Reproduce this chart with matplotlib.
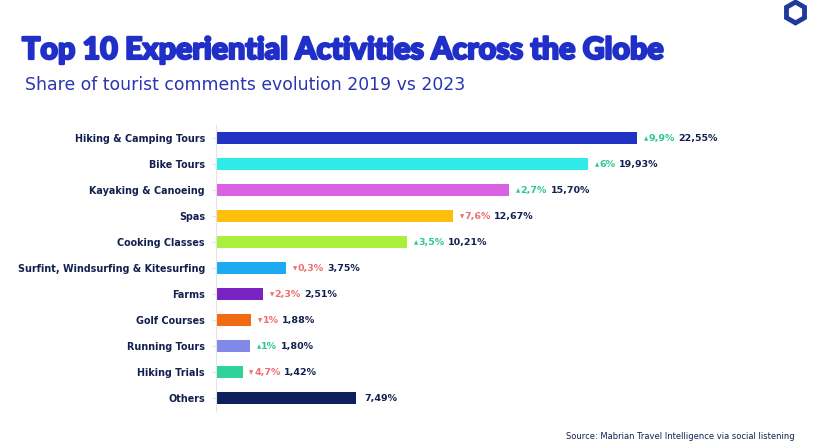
import matplotlib.pyplot as plt
import matplotlib.patheffects as pe
from matplotlib.lines import Line2D

categories = ["Hiking & Camping Tours", "Bike Tours", "Kayaking & Canoeing", "Spas",
              "Cooking Classes", "Surfint, Windsurfing & Kitesurfing", "Farms",
              "Golf Courses", "Running Tours", "Hiking Trials", "Others"]
shares = [22.55, 19.93, 15.70, 12.67, 10.21, 3.75, 2.51, 1.88, 1.80, 1.42, 7.49]
changes = [9.9, 6, 2.7, -7.6, 3.5, -0.3, -2.3, -1, 1, -4.7, None]
colors = ["#2233c4", "#2eeaea", "#d862e2", "#fcbf0c", "#a8f03c", "#1eaaf0",
          "#7a22c2", "#f26a12", "#8088e8", "#2dd49a", "#0d1f5c"]

NAVY = "#13204f"
UP = "#2dc98e"
DOWN = "#ee6f6f"

W, H = 815, 444
fig = plt.figure(figsize=(W / 100, H / 100), dpi=100)
fig.patch.set_facecolor("white")

# axes: x=216..760 px, y=125..411 px
px_per_unit = (637 - 216) / 22.55
ax_l, ax_r, ax_t, ax_b = 216, 760, 125, 411
ax = fig.add_axes([ax_l / W, 1 - ax_b / H, (ax_r - ax_l) / W, (ax_b - ax_t) / H])
ax.set_xlim(0, (ax_r - ax_l) / px_per_unit)
ax.set_ylim(len(categories) - 0.5, -0.5)

y = list(range(len(categories)))
ax.barh(y, shares, height=0.44, color=colors)

ax.set_yticks(y)
ax.set_yticklabels(categories, fontsize=6.9, fontweight="bold", color=NAVY)
ax.tick_params(axis="y", length=3, color="#e4e4e4", pad=5)
ax.set_xticks([])
for s in ["top", "right", "bottom"]:
    ax.spines[s].set_visible(False)
ax.spines["left"].set_color("#e4e4e4")
ax.patch.set_alpha(0)

for i, (v, c) in enumerate(zip(shares, changes)):
    val = f"{v:.2f}".replace(".", ",") + "%"
    if c is None:
        ax.annotate(val, (v, i), xytext=(6.5, 0), textcoords="offset points",
                    va="center", ha="left", fontsize=6.8, fontweight="bold", color=NAVY)
        continue
    col = UP if c > 0 else DOWN
    tri = ax.annotate("▲" if c > 0 else "▼", (v, i), xytext=(5, -0.5),
                      textcoords="offset points", va="center", ha="left",
                      fontsize=4, color=col)
    chg = ax.annotate(f"{abs(c):g}".replace(".", ",") + "%", (1, 0.5), xycoords=tri,
                      xytext=(0.3, 0.3), textcoords="offset points", va="center", ha="left",
                      fontsize=6.8, fontweight="bold", color=col)
    ax.annotate(val, (1, 0.5), xycoords=chg, xytext=(2.5, 0), textcoords="offset points",
                va="center", ha="left", fontsize=6.8, fontweight="bold", color=NAVY)

fig.text(22 / W, 1 - 50 / H, "Top 10 Experiential Activities Across the Globe",
         fontsize=21.9, fontweight="black", family="Lato", color="#1f2fc8",
         va="center", ha="left",
         path_effects=[pe.withStroke(linewidth=1.6, foreground="#1f2fc8")])
fig.text(25 / W, 1 - 85 / H, "Share of tourist comments evolution 2019 vs 2023",
         fontsize=12.4, color="#2a36b0", va="center", ha="left")
fig.text(795 / W, 1 - 436 / H, "Source: Mabrian Travel Intelligence via social listening",
         fontsize=6, color=NAVY, va="center", ha="right")

# logo
fig.add_artist(Line2D([795 / W], [1 - 12 / H], transform=fig.transFigure, marker="h",
                      markersize=15, markerfacecolor="white", markeredgecolor="#1f3a9a",
                      markeredgewidth=3.5))

fig.savefig("out.png", dpi=100)
